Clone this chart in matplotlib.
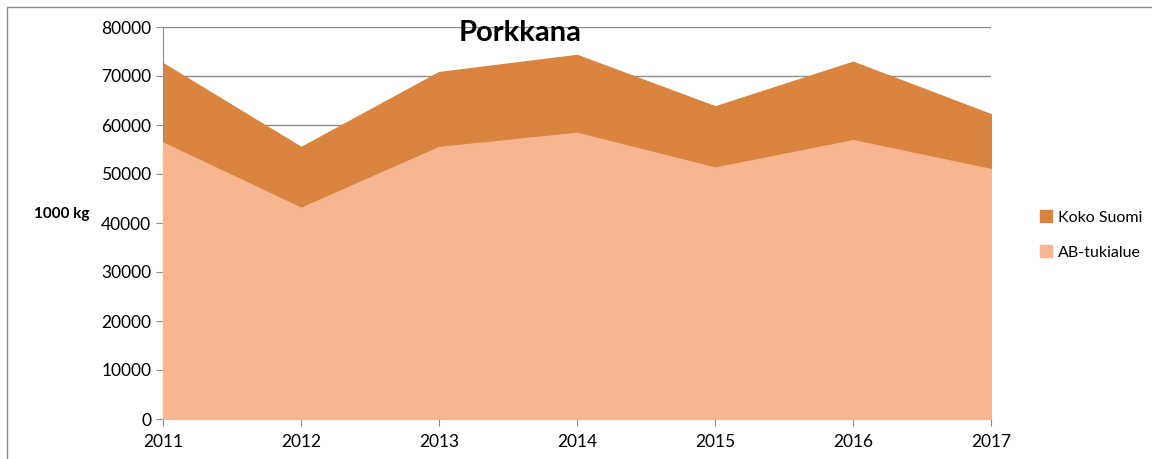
import matplotlib.pyplot as plt
from matplotlib.patches import Rectangle

years = [2011, 2012, 2013, 2014, 2015, 2016, 2017]
koko_suomi = [72600, 55500, 70800, 74300, 63800, 72900, 62200]
ab_tukialue = [56400, 43100, 55500, 58400, 51300, 56900, 51000]

plt.rcParams['font.family'] = ['Lato', 'DejaVu Sans']

fig = plt.figure(figsize=(11.52, 4.59), dpi=100)
ax = fig.add_axes([163/1152, 1 - 419/459, (991-163)/1152, (419-27)/459])

ax.fill_between(years, koko_suomi, color='#D9843F', label='Koko Suomi', zorder=2)
ax.fill_between(years, ab_tukialue, color='#F8B592', label='AB-tukialue', zorder=3)

ax.set_xlim(2011, 2017)
ax.set_ylim(0, 80000)
ax.set_yticks(range(0, 80001, 10000))
ax.set_xticks(years)
ax.grid(axis='y', color='#8C8C8C', linewidth=1, zorder=1)
ax.set_axisbelow(True)
for s in ['top', 'right']:
    ax.spines[s].set_visible(False)
for s in ['left', 'bottom']:
    ax.spines[s].set_color('#8C8C8C')
ax.tick_params(colors='#8C8C8C', labelcolor='black', labelsize=12.5, length=5)
ax.tick_params(axis='x', pad=6)

fig.text(520/1152, 1 - 33/459, 'Porkkana', fontsize=21, fontweight='bold',
         ha='center', va='center')
fig.text(62/1152, 1 - 214/459, '1000 kg', fontsize=11, fontweight='bold',
         ha='center', va='center')

ax.legend(loc='center left', bbox_to_anchor=(1026/1152, 1 - 235/459),
          bbox_transform=fig.transFigure, frameon=False, fontsize=11.5,
          handlelength=0.7, handleheight=0.7, labelspacing=1.3, handletextpad=0.4)

fig.patches.append(Rectangle((7/1152, -0.1), 1.2, 1 - 7/459 + 0.1,
                             transform=fig.transFigure, fill=False,
                             edgecolor='#8C8C8C', linewidth=1))

fig.savefig('out.png', dpi=100)
